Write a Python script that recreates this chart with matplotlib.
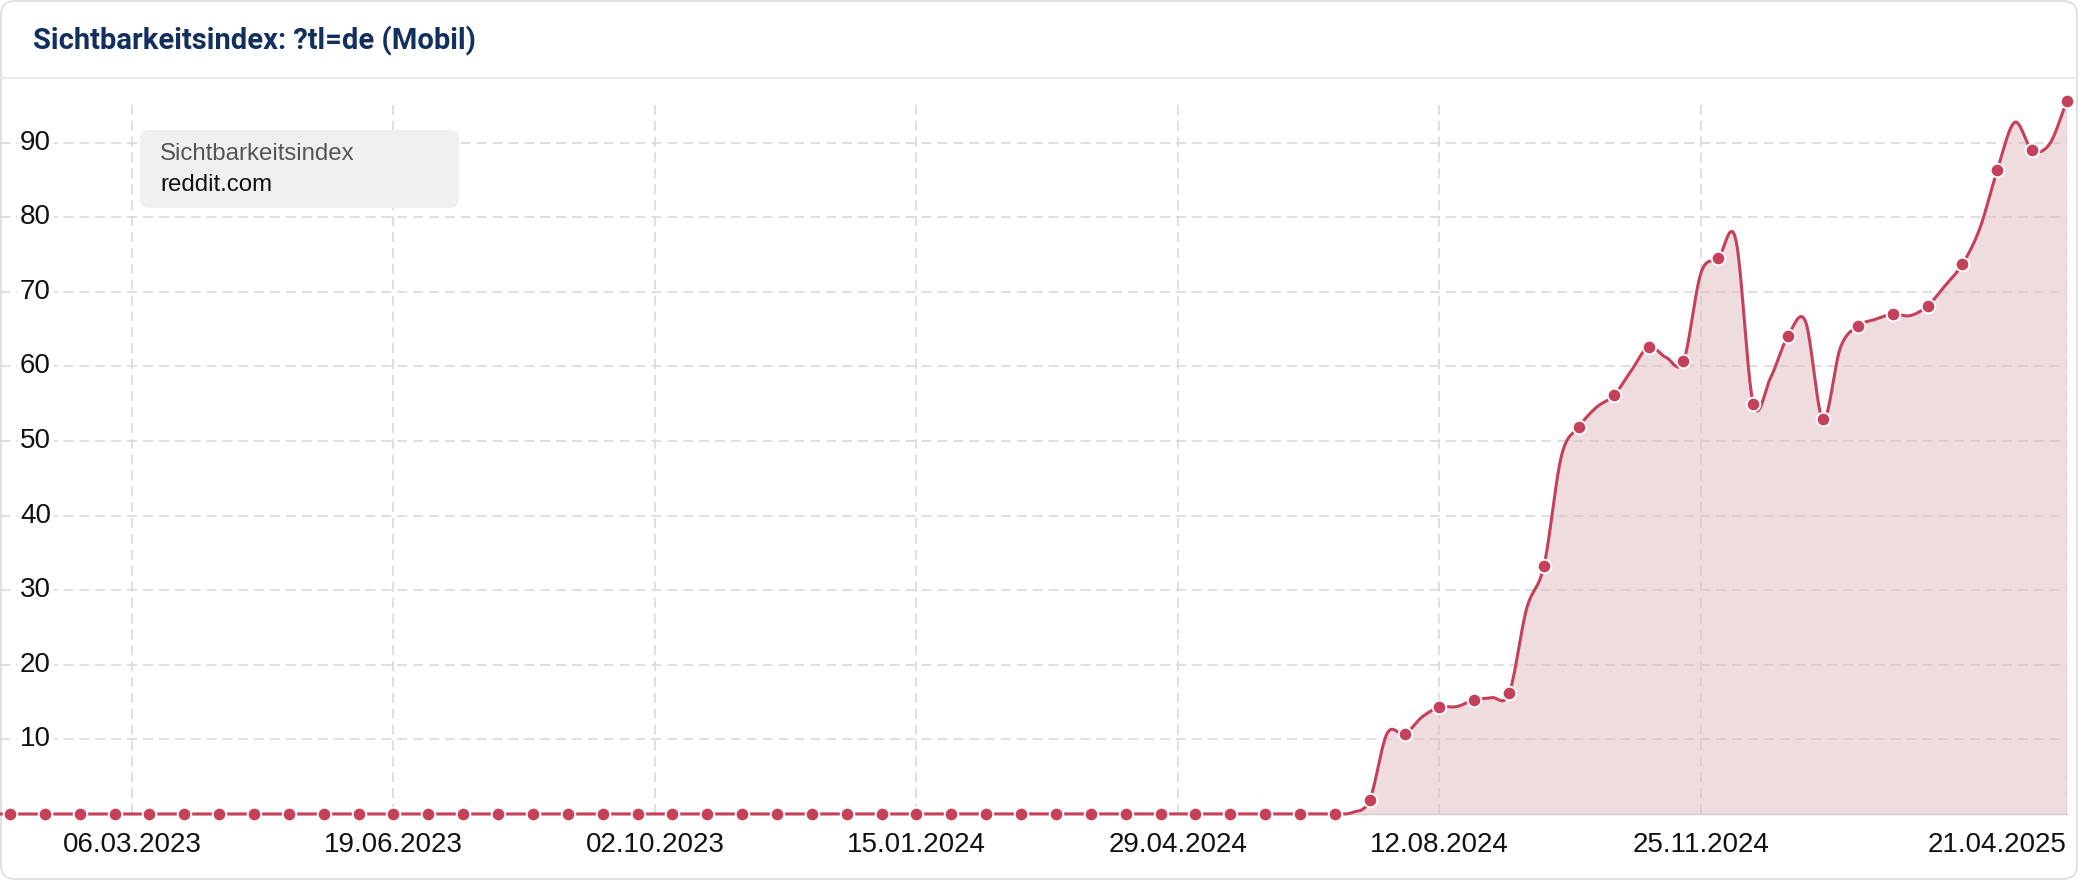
"""Sichtbarkeitsindex reddit.com (mobile, ?tl=de) as a smooth area chart."""

import matplotlib.dates as mdates
import matplotlib.pyplot as plt
import numpy as np
import pandas as pd
from matplotlib.lines import Line2D
from matplotlib.patches import FancyBboxPatch
from matplotlib.transforms import IdentityTransform, blended_transform_factory

plt.rcParams["font.family"] = ["Liberation Sans", "DejaVu Sans"]

# Weekly values from 02.01.2023 to 21.04.2025 (markers on every second week)
first_week = "2023-01-02"
flat_2023_2024 = [
    0, 0, 0, 0, 0, 0, 0, 0, 0, 0,
    0, 0, 0, 0, 0, 0, 0, 0, 0, 0,
    0, 0, 0, 0, 0, 0, 0, 0, 0, 0,
    0, 0, 0, 0, 0, 0, 0, 0, 0, 0,
    0, 0, 0, 0, 0, 0, 0, 0, 0, 0,
    0, 0, 0, 0, 0, 0, 0, 0, 0, 0,
    0, 0, 0, 0, 0, 0, 0, 0, 0, 0,
    0, 0, 0, 0, 0, 0, 0, 0, 0,
]  # 02.01.2023 .. 01.07.2024
rise_2024_2025 = [
    0.2, 1.9, 10.8, 10.7, 13.0, 14.3, 14.4, 15.3, 15.6, 16.2,
    27.5, 33.3, 48.0, 51.9, 54.5, 56.1, 59.4, 62.6, 61.2, 60.7,
    72.5, 74.5, 77.0, 55.0, 58.5, 64.1, 66.0, 52.9, 62.5, 65.4,
    66.3, 67.0, 66.8, 68.1, 70.8, 73.7, 78.5, 86.3, 92.7, 89.0,
    89.8, 95.6,
]  # 08.07.2024 .. 21.04.2025
values = np.array(flat_2023_2024 + rise_2024_2025, dtype=float)

tick_dates = ["2023-03-06", "2023-06-19", "2023-10-02", "2024-01-15",
              "2024-04-29", "2024-08-12", "2024-11-25", "2025-04-21"]
y_ticks = [10, 20, 30, 40, 50, 60, 70, 80, 90]

LINE = "#c5405a"
FILL = (225 / 255, 187 / 255, 193 / 255)

weeks = pd.date_range(first_week, periods=len(values), freq="7D")
xnum = mdates.date2num(weeks)

# cubic hermite (catmull-rom) through the weekly points
slopes = np.zeros_like(values)
slopes[1:-1] = (values[2:] - values[:-2]) / 2
slopes[0] = values[1] - values[0]
slopes[-1] = values[-1] - values[-2]
t = np.linspace(0, 1, 30)[:-1]
h00 = 2 * t**3 - 3 * t**2 + 1
h10 = t**3 - 2 * t**2 + t
h01 = -2 * t**3 + 3 * t**2
h11 = t**3 - t**2
cx, cy = [], []
for i in range(len(values) - 1):
    cx.append(xnum[i] + 7 * t)
    cy.append(h00 * values[i] + h10 * slopes[i] + h01 * values[i + 1] + h11 * slopes[i + 1])
cx = np.concatenate(cx + [[xnum[-1]]])
cy = np.concatenate(cy + [[values[-1]]])

fig = plt.figure(figsize=(20.78, 8.8), dpi=100)

# card + header
card = FancyBboxPatch((1, 1), 2076, 878, boxstyle="round,pad=0,rounding_size=14",
                      transform=IdentityTransform(), fc="white", ec="#dcdcdc", lw=1.2, zorder=-1)
fig.add_artist(card)
fig.add_artist(Line2D([1, 2077], [802, 802], transform=IdentityTransform(), color="#ebebeb", lw=1.5))
fig.text(33 / 2078, 1 - 41 / 880, "Sichtbarkeitsindex: ?tl=de (Mobil)", family="Roboto",
         fontweight="bold", fontsize=21, color="#132f5e", ha="left", va="center")

ax = fig.add_axes([0, 66 / 880, 2067 / 2078, 714 / 880])
ax.patch.set_visible(False)

ax.fill_between(cx, cy, 0, color=FILL, alpha=0.5, lw=0, zorder=1)
ax.plot(cx, cy, color=LINE, lw=2.2, zorder=3, clip_on=False, solid_capstyle="round")
ax.plot(xnum[::-2], values[::-2], "o", ms=9.8, mfc=LINE, mec="white", mew=1.4,
        zorder=4, clip_on=False)

start = mdates.date2num(pd.Timestamp("2023-01-12"))
ax.set_xlim(start, xnum[-1])
ax.set_ylim(0, 95.7)

tick_nums = mdates.date2num(pd.to_datetime(tick_dates))
ax.set_xticks(tick_nums)
ax.set_xticklabels([pd.Timestamp(d).strftime("%d.%m.%Y") for d in tick_dates])
ax.get_xticklabels()[-1].set_ha("right")
ax.set_yticks(y_ticks)
ax.tick_params(axis="x", length=0, pad=13, labelsize=20, labelcolor="#111111")
ax.tick_params(axis="y", length=0, labelleft=False)

ax.set_axisbelow(True)
ax.grid(True, color="#dcdcdc", lw=1.3, linestyle=(0, (5.5, 3.3)))

for side in ["top", "left", "right"]:
    ax.spines[side].set_visible(False)
ax.spines["bottom"].set_color("#d6cdcf")
ax.spines["bottom"].set_linewidth(1)

ytrans = blended_transform_factory(ax.transAxes, ax.transData)
for v in y_ticks:
    ax.text(20 / 2067, v, str(v), transform=ytrans, ha="left", va="center",
            fontsize=20, color="#111111", zorder=5,
            bbox=dict(fc="white", ec="none", pad=2))

# legend box
legend_box = FancyBboxPatch((140, 880 - 208), 319, 78, boxstyle="round,pad=0,rounding_size=9",
                            transform=IdentityTransform(), fc="#f0f0f0", ec="none", zorder=5)
fig.add_artist(legend_box)
fig.text(160 / 2078, 1 - 154 / 880, "Sichtbarkeitsindex", fontsize=17.3, color="#555555",
         ha="left", va="center", zorder=6)
fig.text(160 / 2078, 1 - 185 / 880, "reddit.com", fontsize=17.3, color="#111111",
         ha="left", va="center", zorder=6)

fig.savefig("out.png", dpi=100)
